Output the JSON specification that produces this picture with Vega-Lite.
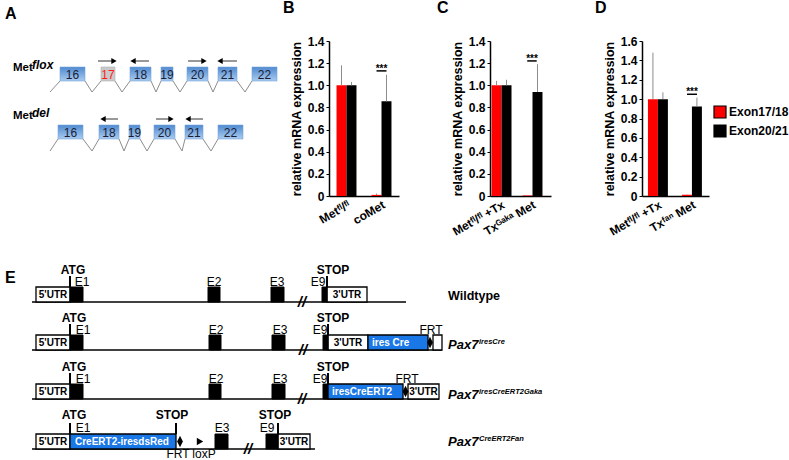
{
  "$schema": "https://vega.github.io/schema/vega-lite/v6.json",
  "padding": 0,
  "background": "white",
  "config": {
    "font": "Liberation Sans",
    "view": {"stroke": null},
    "title": {"fontSize": 16, "fontWeight": "bold", "anchor": "start", "frame": "group", "font": "Liberation Sans", "color": "black", "baseline": "alphabetic", "offset": 19},
    "axis": {"labelFont": "Liberation Sans", "titleFont": "Liberation Sans", "labelColor": "black", "titleColor": "black", "domainColor": "black", "tickColor": "black", "grid": false, "labelFontWeight": "bold", "titleFontWeight": "bold", "labelFontSize": 12, "titleFontSize": 12.5, "labelOverlap": false, "labelSeparation": 0},
    "axisY": {"labelOverlap": false},
    "axisQuantitative": {"labelOverlap": false}
  },
  "spacing": 24,
  "vconcat": [
    {
      "spacing": 3,
      "hconcat": [
        {
          "width": 280,
          "height": 155,
          "title": {"text": "A", "dx": 5},
          "layer": [
            {
              "data": {"values": [
                {"x": 50, "y": 51, "x2": 60, "y2": 40}, {"x": 85, "y": 40, "x2": 92, "y2": 51}, {"x": 92, "y": 51, "x2": 101, "y2": 40},
                {"x": 115, "y": 40, "x2": 122, "y2": 51}, {"x": 122, "y": 51, "x2": 130, "y2": 40}, {"x": 151, "y": 40, "x2": 156, "y2": 51},
                {"x": 156, "y": 51, "x2": 161, "y2": 40}, {"x": 173, "y": 40, "x2": 180, "y2": 51}, {"x": 180, "y": 51, "x2": 187, "y2": 40},
                {"x": 208, "y": 40, "x2": 213, "y2": 51}, {"x": 213, "y": 51, "x2": 218, "y2": 40}, {"x": 237, "y": 40, "x2": 245, "y2": 51},
                {"x": 245, "y": 51, "x2": 252, "y2": 40},
                {"x": 50, "y": 110, "x2": 58, "y2": 98}, {"x": 83, "y": 98, "x2": 92, "y2": 110}, {"x": 92, "y": 110, "x2": 99, "y2": 98},
                {"x": 119, "y": 98, "x2": 124, "y2": 110}, {"x": 124, "y": 110, "x2": 129, "y2": 98}, {"x": 140, "y": 98, "x2": 147, "y2": 110},
                {"x": 147, "y": 110, "x2": 154, "y2": 98}, {"x": 175, "y": 98, "x2": 182, "y2": 110}, {"x": 182, "y": 110, "x2": 185, "y2": 98},
                {"x": 203, "y": 98, "x2": 211, "y2": 110}, {"x": 211, "y": 110, "x2": 218, "y2": 98}
              ]},
              "mark": {"type": "rule", "color": "#8c8c8c", "strokeWidth": 1},
              "encoding": {
                "x": {"field": "x", "type": "quantitative", "scale": {"domain": [0, 280], "nice": false, "zero": false}, "axis": null},
                "y": {"field": "y", "type": "quantitative", "scale": {"domain": [0, 155], "nice": false, "zero": false, "reverse": true}, "axis": null},
                "x2": {"field": "x2"},
                "y2": {"field": "y2"}
              }
            },
            {
              "data": {"name": "exons", "values": [
                {"exon": "16", "start": 60, "end": 85, "mid": 72.5, "top": 26, "bottom": 40},
                {"exon": "17", "start": 101, "end": 115, "mid": 108, "top": 26, "bottom": 40},
                {"exon": "18", "start": 130, "end": 151, "mid": 140.5, "top": 26, "bottom": 40},
                {"exon": "19", "start": 161, "end": 173, "mid": 167, "top": 26, "bottom": 40},
                {"exon": "20", "start": 187, "end": 208, "mid": 197.5, "top": 26, "bottom": 40},
                {"exon": "21", "start": 218, "end": 237, "mid": 227.5, "top": 26, "bottom": 40},
                {"exon": "22", "start": 252, "end": 277, "mid": 264.5, "top": 26, "bottom": 40},
                {"exon": "16", "start": 58, "end": 83, "mid": 70.5, "top": 84, "bottom": 98},
                {"exon": "18", "start": 99, "end": 119, "mid": 109, "top": 84, "bottom": 98},
                {"exon": "19", "start": 129, "end": 140, "mid": 134.5, "top": 84, "bottom": 98},
                {"exon": "20", "start": 154, "end": 175, "mid": 164.5, "top": 84, "bottom": 98},
                {"exon": "21", "start": 185, "end": 203, "mid": 194, "top": 84, "bottom": 98},
                {"exon": "22", "start": 218, "end": 243, "mid": 230.5, "top": 84, "bottom": 98}
              ]},
              "transform": [{"filter": "datum.exon !== '17'"}],
              "mark": {"type": "rect", "fill": {"gradient": "linear", "x1": 0, "y1": 0, "x2": 0, "y2": 1, "stops": [{"offset": 0, "color": "#4f8ad0"}, {"offset": 1, "color": "#a9cbef"}]}, "stroke": "#7aa6da", "strokeWidth": 0.6},
              "encoding": {
                "x": {"field": "start", "type": "quantitative"},
                "x2": {"field": "end"},
                "y": {"field": "top", "type": "quantitative"},
                "y2": {"field": "bottom"}
              }
            },
            {
              "data": {"name": "exons"},
              "transform": [{"filter": "datum.exon === '17'"}],
              "mark": {"type": "rect", "fill": "#c9c9c9", "stroke": "#b0b0b0", "strokeWidth": 0.6},
              "encoding": {
                "x": {"field": "start", "type": "quantitative"},
                "x2": {"field": "end"},
                "y": {"field": "top", "type": "quantitative"},
                "y2": {"field": "bottom"}
              }
            },
            {
              "data": {"name": "exons"},
              "mark": {"type": "text", "fontSize": 12, "align": "center", "baseline": "alphabetic", "dy": -2.5},
              "encoding": {
                "x": {"field": "mid", "type": "quantitative"},
                "y": {"field": "bottom", "type": "quantitative"},
                "text": {"field": "exon"},
                "color": {"condition": {"test": "datum.exon === '17'", "value": "#ff1a1a"}, "value": "#1c1c34"}
              }
            },
            {
              "data": {"name": "arrows", "values": [
                {"x": 98, "x2": 114, "y": 20, "dir": "right"},
                {"x": 149, "x2": 133, "y": 20, "dir": "left"},
                {"x": 188, "x2": 204, "y": 20, "dir": "right"},
                {"x": 237, "x2": 220, "y": 20, "dir": "left"},
                {"x": 118, "x2": 103, "y": 78, "dir": "left"},
                {"x": 156, "x2": 171, "y": 78, "dir": "right"},
                {"x": 203, "x2": 188, "y": 78, "dir": "left"}
              ]},
              "mark": {"type": "rule", "color": "#333333", "strokeWidth": 1},
              "encoding": {
                "x": {"field": "x", "type": "quantitative"},
                "x2": {"field": "x2"},
                "y": {"field": "y", "type": "quantitative"}
              }
            },
            {
              "data": {"name": "arrows"},
              "transform": [{"filter": "datum.dir === 'right'"}],
              "mark": {"type": "point", "filled": true, "color": "black", "size": 38, "opacity": 1, "shape": "triangle-right"},
              "encoding": {
                "x": {"field": "x2", "type": "quantitative"},
                "y": {"field": "y", "type": "quantitative"}
              }
            },
            {
              "data": {"name": "arrows"},
              "transform": [{"filter": "datum.dir === 'left'"}],
              "mark": {"type": "point", "filled": true, "color": "black", "size": 38, "opacity": 1, "shape": "triangle-left"},
              "encoding": {
                "x": {"field": "x2", "type": "quantitative"},
                "y": {"field": "y", "type": "quantitative"}
              }
            },
            {
              "data": {"name": "alabels", "values": [
                {"name": "Met", "sup": "flox", "x": 13, "y": 27},
                {"name": "Met", "sup": "del", "x": 13, "y": 75}
              ]},
              "mark": {"type": "text", "fontSize": 11.5, "fontWeight": "bold", "align": "left", "color": "black"},
              "encoding": {
                "x": {"field": "x", "type": "quantitative"},
                "y": {"field": "y", "type": "quantitative"},
                "text": {"field": "name"}
              }
            },
            {
              "data": {"name": "alabels"},
              "mark": {"type": "text", "fontSize": 12, "fontWeight": "bold", "fontStyle": "italic", "align": "left", "dx": 19, "dy": -3, "color": "black"},
              "encoding": {
                "x": {"field": "x", "type": "quantitative"},
                "y": {"field": "y", "type": "quantitative"},
                "text": {"field": "sup"}
              }
            }
          ]
        },
        {
          "spacing": 91,
          "bounds": "flush",
          "resolve": {"legend": {"color": "independent"}},
          "hconcat": [
            {
              "width": 70,
              "height": 155,
              "title": {"text": "B", "dx": -46},
              "data": {"values": [
                {"group": "Metᶠˡ/ᶠˡ", "series": "Exon17/18", "value": 1.0, "upper": 1.18},
                {"group": "Metᶠˡ/ᶠˡ", "series": "Exon20/21", "value": 1.0, "upper": 1.03},
                {"group": "coMet", "series": "Exon17/18", "value": 0.01, "upper": 0.022},
                {"group": "coMet", "series": "Exon20/21", "value": 0.855, "upper": 1.095}
              ]},
              "layer": [
                {
                  "mark": {"type": "bar"},
                  "encoding": {
                    "x": {"field": "group", "type": "nominal", "scale": {"domain": ["Metᶠˡ/ᶠˡ", "coMet"], "paddingInner": 0.43, "paddingOuter": 0.215}, "axis": {"title": null, "ticks": false, "labelAngle": -30, "labelPadding": 3, "domainWidth": 1.5}},
                    "xOffset": {"field": "series", "type": "nominal", "scale": {"domain": ["Exon17/18", "Exon20/21"], "paddingInner": 0, "paddingOuter": 0}},
                    "y": {"field": "value", "type": "quantitative", "scale": {"domain": [0, 1.4], "nice": false}, "axis": {"title": "relative mRNA expression", "values": [0, 0.2, 0.4, 0.6, 0.8, 1.0, 1.2, 1.4], "labelOverlap": false, "labelExpr": "datum.value === 0 ? '0' : format(datum.value, '.1f')", "tickSize": 3, "domainWidth": 1.5, "labelPadding": 2, "titlePadding": 4}},
                    "color": {"field": "series", "type": "nominal", "scale": {"domain": ["Exon17/18", "Exon20/21"], "range": ["#ff0000", "#000000"]}, "legend": null}
                  }
                },
                {
                  "mark": {"type": "rule", "color": "#8c8c8c", "strokeWidth": 1},
                  "encoding": {
                    "x": {"field": "group", "type": "nominal"},
                    "xOffset": {"field": "series", "type": "nominal"},
                    "y": {"field": "value", "type": "quantitative", "axis": {"title": "relative mRNA expression", "values": [0, 0.2, 0.4, 0.6, 0.8, 1.0, 1.2, 1.4], "labelOverlap": false, "labelExpr": "datum.value === 0 ? '0' : format(datum.value, '.1f')", "tickSize": 3, "domainWidth": 1.5, "labelPadding": 2, "titlePadding": 4}},
                    "y2": {"field": "upper"}
                  }
                },
                {
                  "data": {"values": [{"group": "coMet", "sig": 1.13, "stars": "***"}]},
                  "layer": [
                    {
                      "mark": {"type": "rule", "color": "black", "strokeWidth": 1.5},
                      "encoding": {
                        "x": {"field": "group", "type": "nominal", "bandPosition": 0.25},
                        "x2": {"field": "group", "bandPosition": 0.75},
                        "y": {"field": "sig", "type": "quantitative", "axis": {"title": "relative mRNA expression", "values": [0, 0.2, 0.4, 0.6, 0.8, 1.0, 1.2, 1.4], "labelOverlap": false, "labelExpr": "datum.value === 0 ? '0' : format(datum.value, '.1f')", "tickSize": 3, "domainWidth": 1.5, "labelPadding": 2, "titlePadding": 4}}
                      }
                    },
                    {
                      "mark": {"type": "text", "fontSize": 10, "fontWeight": "bold", "baseline": "bottom", "dy": 3},
                      "encoding": {
                        "x": {"field": "group", "type": "nominal", "bandPosition": 0.5},
                        "y": {"field": "sig", "type": "quantitative", "axis": {"title": "relative mRNA expression", "values": [0, 0.2, 0.4, 0.6, 0.8, 1.0, 1.2, 1.4], "labelOverlap": false, "labelExpr": "datum.value === 0 ? '0' : format(datum.value, '.1f')", "tickSize": 3, "domainWidth": 1.5, "labelPadding": 2, "titlePadding": 4}},
                        "text": {"field": "stars"}
                      }
                    }
                  ]
                }
              ]
            },
            {
              "width": 61,
              "height": 155,
              "title": {"text": "C", "dx": -53},
              "data": {"values": [
                {"group": "Metᶠˡ/ᶠˡ +Tx", "series": "Exon17/18", "value": 1.0, "upper": 1.04},
                {"group": "Metᶠˡ/ᶠˡ +Tx", "series": "Exon20/21", "value": 1.0, "upper": 1.05},
                {"group": "Txᴳᵃᵏᵃ Met", "series": "Exon17/18", "value": 0.005, "upper": 0.006},
                {"group": "Txᴳᵃᵏᵃ Met", "series": "Exon20/21", "value": 0.94, "upper": 1.19}
              ]},
              "layer": [
                {
                  "mark": {"type": "bar"},
                  "encoding": {
                    "x": {"field": "group", "type": "nominal", "scale": {"domain": ["Metᶠˡ/ᶠˡ +Tx", "Txᴳᵃᵏᵃ Met"], "paddingInner": 0.39, "paddingOuter": 0.18, "align": 0.14}, "axis": {"title": null, "ticks": false, "labelAngle": -30, "labelPadding": 3, "domainWidth": 1.5}},
                    "xOffset": {"field": "series", "type": "nominal", "scale": {"domain": ["Exon17/18", "Exon20/21"], "paddingInner": 0, "paddingOuter": 0}},
                    "y": {"field": "value", "type": "quantitative", "scale": {"domain": [0, 1.4], "nice": false}, "axis": {"title": "relative mRNA expression", "values": [0, 0.2, 0.4, 0.6, 0.8, 1.0, 1.2, 1.4], "labelOverlap": false, "labelExpr": "datum.value === 0 ? '0' : format(datum.value, '.1f')", "tickSize": 3, "domainWidth": 1.5, "labelPadding": 2, "titlePadding": 4}},
                    "color": {"field": "series", "type": "nominal", "scale": {"domain": ["Exon17/18", "Exon20/21"], "range": ["#ff0000", "#000000"]}, "legend": null}
                  }
                },
                {
                  "mark": {"type": "rule", "color": "#8c8c8c", "strokeWidth": 1},
                  "encoding": {
                    "x": {"field": "group", "type": "nominal"},
                    "xOffset": {"field": "series", "type": "nominal"},
                    "y": {"field": "value", "type": "quantitative", "axis": {"title": "relative mRNA expression", "values": [0, 0.2, 0.4, 0.6, 0.8, 1.0, 1.2, 1.4], "labelOverlap": false, "labelExpr": "datum.value === 0 ? '0' : format(datum.value, '.1f')", "tickSize": 3, "domainWidth": 1.5, "labelPadding": 2, "titlePadding": 4}},
                    "y2": {"field": "upper"}
                  }
                },
                {
                  "data": {"values": [{"group": "Txᴳᵃᵏᵃ Met", "sig": 1.22, "stars": "***"}]},
                  "layer": [
                    {
                      "mark": {"type": "rule", "color": "black", "strokeWidth": 1.5},
                      "encoding": {
                        "x": {"field": "group", "type": "nominal", "bandPosition": 0.25},
                        "x2": {"field": "group", "bandPosition": 0.75},
                        "y": {"field": "sig", "type": "quantitative", "axis": {"title": "relative mRNA expression", "values": [0, 0.2, 0.4, 0.6, 0.8, 1.0, 1.2, 1.4], "labelOverlap": false, "labelExpr": "datum.value === 0 ? '0' : format(datum.value, '.1f')", "tickSize": 3, "domainWidth": 1.5, "labelPadding": 2, "titlePadding": 4}}
                      }
                    },
                    {
                      "mark": {"type": "text", "fontSize": 10, "fontWeight": "bold", "baseline": "bottom", "dy": 3},
                      "encoding": {
                        "x": {"field": "group", "type": "nominal", "bandPosition": 0.5},
                        "y": {"field": "sig", "type": "quantitative", "axis": {"title": "relative mRNA expression", "values": [0, 0.2, 0.4, 0.6, 0.8, 1.0, 1.2, 1.4], "labelOverlap": false, "labelExpr": "datum.value === 0 ? '0' : format(datum.value, '.1f')", "tickSize": 3, "domainWidth": 1.5, "labelPadding": 2, "titlePadding": 4}},
                        "text": {"field": "stars"}
                      }
                    }
                  ]
                }
              ]
            },
            {
              "width": 67,
              "height": 155,
              "title": {"text": "D", "dx": -47},
              "data": {"values": [
                {"group": "Metᶠˡ/ᶠˡ +Tx", "series": "Exon17/18", "value": 1.0, "upper": 1.48},
                {"group": "Metᶠˡ/ᶠˡ +Tx", "series": "Exon20/21", "value": 1.0, "upper": 1.07},
                {"group": "Txᶠᵃⁿ Met", "series": "Exon17/18", "value": 0.012, "upper": 0.016},
                {"group": "Txᶠᵃⁿ Met", "series": "Exon20/21", "value": 0.925, "upper": 1.015}
              ]},
              "layer": [
                {
                  "mark": {"type": "bar"},
                  "encoding": {
                    "x": {"field": "group", "type": "nominal", "scale": {"domain": ["Metᶠˡ/ᶠˡ +Tx", "Txᶠᵃⁿ Met"], "paddingInner": 0.41, "paddingOuter": 0.19, "align": 0.46}, "axis": {"title": null, "ticks": false, "labelAngle": -30, "labelPadding": 3, "domainWidth": 1.5}},
                    "xOffset": {"field": "series", "type": "nominal", "scale": {"domain": ["Exon17/18", "Exon20/21"], "paddingInner": 0, "paddingOuter": 0}},
                    "y": {"field": "value", "type": "quantitative", "scale": {"domain": [0, 1.6], "nice": false}, "axis": {"title": "relative mRNA expression", "values": [0, 0.2, 0.4, 0.6, 0.8, 1.0, 1.2, 1.4, 1.6], "labelOverlap": false, "labelExpr": "datum.value === 0 ? '0' : format(datum.value, '.1f')", "tickSize": 3, "domainWidth": 1.5, "labelPadding": 2, "titlePadding": 4}},
                    "color": {"field": "series", "type": "nominal", "scale": {"domain": ["Exon17/18", "Exon20/21"], "range": ["#ff0000", "#000000"]}, "legend": {"orient": "none", "legendX": 71, "legendY": 64, "title": null, "symbolType": "square", "symbolSize": 144, "symbolStrokeColor": "black", "symbolStrokeWidth": 1.2, "labelFontSize": 12, "labelFontWeight": "bold", "labelFont": "Liberation Sans", "labelColor": "black", "rowPadding": 1, "labelOffset": 2}}
                  }
                },
                {
                  "mark": {"type": "rule", "color": "#8c8c8c", "strokeWidth": 1},
                  "encoding": {
                    "x": {"field": "group", "type": "nominal"},
                    "xOffset": {"field": "series", "type": "nominal"},
                    "y": {"field": "value", "type": "quantitative", "axis": {"title": "relative mRNA expression", "values": [0, 0.2, 0.4, 0.6, 0.8, 1.0, 1.2, 1.4, 1.6], "labelOverlap": false, "labelExpr": "datum.value === 0 ? '0' : format(datum.value, '.1f')", "tickSize": 3, "domainWidth": 1.5, "labelPadding": 2, "titlePadding": 4}},
                    "y2": {"field": "upper"}
                  }
                },
                {
                  "data": {"values": [{"group": "Txᶠᵃⁿ Met", "sig": 1.05, "stars": "***"}]},
                  "layer": [
                    {
                      "mark": {"type": "rule", "color": "black", "strokeWidth": 1.5},
                      "encoding": {
                        "x": {"field": "group", "type": "nominal", "bandPosition": 0.25},
                        "x2": {"field": "group", "bandPosition": 0.75},
                        "y": {"field": "sig", "type": "quantitative", "axis": {"title": "relative mRNA expression", "values": [0, 0.2, 0.4, 0.6, 0.8, 1.0, 1.2, 1.4, 1.6], "labelOverlap": false, "labelExpr": "datum.value === 0 ? '0' : format(datum.value, '.1f')", "tickSize": 3, "domainWidth": 1.5, "labelPadding": 2, "titlePadding": 4}}
                      }
                    },
                    {
                      "mark": {"type": "text", "fontSize": 10, "fontWeight": "bold", "baseline": "bottom", "dy": 3},
                      "encoding": {
                        "x": {"field": "group", "type": "nominal", "bandPosition": 0.5},
                        "y": {"field": "sig", "type": "quantitative", "axis": {"title": "relative mRNA expression", "values": [0, 0.2, 0.4, 0.6, 0.8, 1.0, 1.2, 1.4, 1.6], "labelOverlap": false, "labelExpr": "datum.value === 0 ? '0' : format(datum.value, '.1f')", "tickSize": 3, "domainWidth": 1.5, "labelPadding": 2, "titlePadding": 4}},
                        "text": {"field": "stars"}
                      }
                    }
                  ]
                }
              ]
            }
          ]
        }
      ]
    },
    {
      "width": 560,
      "height": 200,
      "title": {"text": "E", "dx": 5, "dy": 24, "offset": 0},
      "layer": [
        {
          "data": {"values": [
            {"x": 32, "x2": 406, "y": 40}, {"x": 32, "x2": 442, "y": 88}, {"x": 32, "x2": 439, "y": 137}, {"x": 32, "x2": 315, "y": 187}
          ]},
          "mark": {"type": "rule", "color": "black", "strokeWidth": 1.5},
          "encoding": {
            "x": {"field": "x", "type": "quantitative", "scale": {"domain": [0, 560], "nice": false, "zero": false}, "axis": null},
            "x2": {"field": "x2"},
            "y": {"field": "y", "type": "quantitative", "scale": {"domain": [0, 200], "nice": false, "zero": false, "reverse": true}, "axis": null}
          }
        },
        {
          "data": {"name": "boxes", "values": [
            {"kind": "white", "x": 36, "x2": 70, "y": 25, "y2": 40}, {"kind": "black", "x": 70, "x2": 83, "y": 25, "y2": 40},
            {"kind": "black", "x": 208, "x2": 220, "y": 25, "y2": 40}, {"kind": "black", "x": 271, "x2": 284, "y": 25, "y2": 40},
            {"kind": "black", "x": 322, "x2": 327, "y": 25, "y2": 40}, {"kind": "white", "x": 327, "x2": 367, "y": 25, "y2": 40},
            {"kind": "white", "x": 36, "x2": 70, "y": 73, "y2": 88}, {"kind": "black", "x": 70, "x2": 83, "y": 73, "y2": 88},
            {"kind": "black", "x": 209, "x2": 221, "y": 73, "y2": 88}, {"kind": "black", "x": 272, "x2": 285, "y": 73, "y2": 88},
            {"kind": "black", "x": 323, "x2": 328, "y": 73, "y2": 88}, {"kind": "white", "x": 328, "x2": 368, "y": 73, "y2": 88},
            {"kind": "blue", "x": 368, "x2": 428, "y": 73, "y2": 88}, {"kind": "white", "x": 433, "x2": 442, "y": 73, "y2": 88},
            {"kind": "white", "x": 36, "x2": 70, "y": 122, "y2": 137}, {"kind": "black", "x": 70, "x2": 83, "y": 122, "y2": 137},
            {"kind": "black", "x": 209, "x2": 221, "y": 122, "y2": 137}, {"kind": "black", "x": 272, "x2": 285, "y": 122, "y2": 137},
            {"kind": "black", "x": 323, "x2": 328, "y": 122, "y2": 137}, {"kind": "blue", "x": 328, "x2": 403, "y": 122, "y2": 137},
            {"kind": "white", "x": 408, "x2": 439, "y": 122, "y2": 137},
            {"kind": "white", "x": 36, "x2": 70, "y": 172, "y2": 187}, {"kind": "blue", "x": 70, "x2": 176, "y": 172, "y2": 187},
            {"kind": "black", "x": 215, "x2": 228, "y": 172, "y2": 187}, {"kind": "black", "x": 266, "x2": 278, "y": 172, "y2": 187},
            {"kind": "white", "x": 278, "x2": 310, "y": 172, "y2": 187}
          ]},
          "transform": [{"filter": "datum.kind === 'white'"}],
          "mark": {"type": "rect", "fill": "white", "stroke": "black", "strokeWidth": 1.3},
          "encoding": {
            "x": {"field": "x", "type": "quantitative"},
            "x2": {"field": "x2"},
            "y": {"field": "y", "type": "quantitative"},
            "y2": {"field": "y2"}
          }
        },
        {
          "data": {"name": "boxes"},
          "transform": [{"filter": "datum.kind === 'black'"}],
          "mark": {"type": "rect", "fill": "black", "stroke": "black", "strokeWidth": 1},
          "encoding": {
            "x": {"field": "x", "type": "quantitative"},
            "x2": {"field": "x2"},
            "y": {"field": "y", "type": "quantitative"},
            "y2": {"field": "y2"}
          }
        },
        {
          "data": {"name": "boxes"},
          "transform": [{"filter": "datum.kind === 'blue'"}],
          "mark": {"type": "rect", "fill": "#1a78e6", "stroke": "black", "strokeWidth": 1.3},
          "encoding": {
            "x": {"field": "x", "type": "quantitative"},
            "x2": {"field": "x2"},
            "y": {"field": "y", "type": "quantitative"},
            "y2": {"field": "y2"}
          }
        },
        {
          "data": {"values": [
            {"x": 70, "y": 14, "y2": 25}, {"x": 327, "y": 14, "y2": 25},
            {"x": 70, "y": 62, "y2": 73}, {"x": 328, "y": 62, "y2": 73},
            {"x": 70, "y": 111, "y2": 122}, {"x": 328, "y": 111, "y2": 122},
            {"x": 70, "y": 161, "y2": 172}, {"x": 176, "y": 161, "y2": 172}, {"x": 278, "y": 161, "y2": 172}
          ]},
          "mark": {"type": "rule", "color": "black", "strokeWidth": 2},
          "encoding": {
            "x": {"field": "x", "type": "quantitative"},
            "y": {"field": "y", "type": "quantitative"},
            "y2": {"field": "y2"}
          }
        },
        {
          "data": {"name": "etext", "values": [
            {"kind": "bold", "text": "ATG", "x": 73, "y": 12}, {"kind": "bold", "text": "STOP", "x": 333, "y": 12},
            {"kind": "bold", "text": "ATG", "x": 74, "y": 60}, {"kind": "bold", "text": "STOP", "x": 333, "y": 60},
            {"kind": "bold", "text": "ATG", "x": 74, "y": 109}, {"kind": "bold", "text": "STOP", "x": 333, "y": 109},
            {"kind": "bold", "text": "ATG", "x": 74, "y": 157}, {"kind": "bold", "text": "STOP", "x": 172, "y": 157}, {"kind": "bold", "text": "STOP", "x": 275, "y": 157},
            {"kind": "plain", "text": "E1", "x": 82, "y": 24}, {"kind": "plain", "text": "E2", "x": 214, "y": 24}, {"kind": "plain", "text": "E3", "x": 277, "y": 24}, {"kind": "plain", "text": "E9", "x": 318, "y": 24},
            {"kind": "plain", "text": "E1", "x": 83, "y": 72}, {"kind": "plain", "text": "E2", "x": 216, "y": 72}, {"kind": "plain", "text": "E3", "x": 280, "y": 72}, {"kind": "plain", "text": "E9", "x": 320, "y": 72},
            {"kind": "plain", "text": "E1", "x": 83, "y": 121}, {"kind": "plain", "text": "E2", "x": 216, "y": 121}, {"kind": "plain", "text": "E3", "x": 280, "y": 121}, {"kind": "plain", "text": "E9", "x": 320, "y": 121},
            {"kind": "plain", "text": "E1", "x": 83, "y": 170}, {"kind": "plain", "text": "E3", "x": 222, "y": 170}, {"kind": "plain", "text": "E9", "x": 267, "y": 170},
            {"kind": "plain", "text": "FRT", "x": 431, "y": 72}, {"kind": "plain", "text": "FRT", "x": 407, "y": 121},
            {"kind": "plain", "text": "FRT", "x": 178, "y": 196}, {"kind": "plain", "text": "loxP", "x": 204, "y": 196},
            {"kind": "utr", "text": "5'UTR", "x": 53, "y": 32.5}, {"kind": "utr", "text": "3'UTR", "x": 347, "y": 32.5},
            {"kind": "utr", "text": "5'UTR", "x": 53, "y": 80.5}, {"kind": "utr", "text": "3'UTR", "x": 348, "y": 80.5},
            {"kind": "utr", "text": "5'UTR", "x": 53, "y": 129.5}, {"kind": "utr", "text": "3'UTR", "x": 423.5, "y": 129.5},
            {"kind": "utr", "text": "5'UTR", "x": 53, "y": 179.5}, {"kind": "utr", "text": "3'UTR", "x": 294, "y": 179.5},
            {"kind": "blue", "text": "ires Cre", "x": 372, "y": 80.5}, {"kind": "blue", "text": "iresCreERT2", "x": 332, "y": 129.5},
            {"kind": "blue", "text": "CreERT2-iresdsRed", "x": 75, "y": 179.5},
            {"kind": "brk", "text": "//", "x": 302, "y": 40}, {"kind": "brk", "text": "//", "x": 303, "y": 88},
            {"kind": "brk", "text": "//", "x": 302, "y": 137}, {"kind": "brk", "text": "//", "x": 248, "y": 187},
            {"kind": "wt", "text": "Wildtype", "x": 448, "y": 38}
          ]},
          "transform": [{"filter": "datum.kind === 'bold'"}],
          "mark": {"type": "text", "fontSize": 12, "fontWeight": "bold", "align": "center", "baseline": "alphabetic", "color": "black"},
          "encoding": {
            "x": {"field": "x", "type": "quantitative"},
            "y": {"field": "y", "type": "quantitative"},
            "text": {"field": "text"}
          }
        },
        {
          "data": {"name": "etext"},
          "transform": [{"filter": "datum.kind === 'wt'"}],
          "mark": {"type": "text", "fontSize": 12.5, "fontWeight": "bold", "align": "left", "baseline": "alphabetic", "color": "black"},
          "encoding": {
            "x": {"field": "x", "type": "quantitative"},
            "y": {"field": "y", "type": "quantitative"},
            "text": {"field": "text"}
          }
        },
        {
          "data": {"name": "etext"},
          "transform": [{"filter": "datum.kind === 'plain'"}],
          "mark": {"type": "text", "fontSize": 12, "align": "center", "baseline": "alphabetic", "color": "black"},
          "encoding": {
            "x": {"field": "x", "type": "quantitative"},
            "y": {"field": "y", "type": "quantitative"},
            "text": {"field": "text"}
          }
        },
        {
          "data": {"name": "etext"},
          "transform": [{"filter": "datum.kind === 'utr'"}],
          "mark": {"type": "text", "fontSize": 10, "fontWeight": "bold", "align": "center", "baseline": "middle", "color": "black"},
          "encoding": {
            "x": {"field": "x", "type": "quantitative"},
            "y": {"field": "y", "type": "quantitative"},
            "text": {"field": "text"}
          }
        },
        {
          "data": {"name": "etext"},
          "transform": [{"filter": "datum.kind === 'blue'"}],
          "mark": {"type": "text", "fontSize": 10, "fontWeight": "bold", "align": "left", "baseline": "middle", "color": "white"},
          "encoding": {
            "x": {"field": "x", "type": "quantitative"},
            "y": {"field": "y", "type": "quantitative"},
            "text": {"field": "text"}
          }
        },
        {
          "data": {"name": "etext"},
          "transform": [{"filter": "datum.kind === 'brk'"}],
          "mark": {"type": "text", "fontSize": 15, "fontWeight": "bold", "fontStyle": "italic", "align": "center", "baseline": "middle", "color": "black"},
          "encoding": {
            "x": {"field": "x", "type": "quantitative"},
            "y": {"field": "y", "type": "quantitative"},
            "text": {"field": "text"}
          }
        },
        {
          "data": {"name": "sites", "values": [
            {"site": "FRT", "x": 430, "y": 80.5}, {"site": "FRT", "x": 405.5, "y": 129.5}, {"site": "FRT", "x": 180, "y": 179.5}, {"site": "loxP", "x": 200, "y": 179.5}
          ]},
          "transform": [{"filter": "datum.site === 'FRT'"}],
          "mark": {"type": "point", "filled": true, "color": "black", "opacity": 1, "shape": "M0,-1L0.5,0L0,1L-0.5,0Z", "size": 130},
          "encoding": {
            "x": {"field": "x", "type": "quantitative"},
            "y": {"field": "y", "type": "quantitative"}
          }
        },
        {
          "data": {"name": "sites"},
          "transform": [{"filter": "datum.site === 'loxP'"}],
          "mark": {"type": "point", "filled": true, "color": "black", "opacity": 1, "shape": "triangle-right", "size": 55},
          "encoding": {
            "x": {"field": "x", "type": "quantitative"},
            "y": {"field": "y", "type": "quantitative"}
          }
        },
        {
          "data": {"name": "pax", "values": [
            {"name": "Pax7", "sup": "iresCre", "x": 448, "y": 87},
            {"name": "Pax7", "sup": "iresCreERT2Gaka", "x": 448, "y": 137},
            {"name": "Pax7", "sup": "CreERT2Fan", "x": 448, "y": 184}
          ]},
          "mark": {"type": "text", "fontSize": 13, "fontWeight": "bold", "fontStyle": "italic", "align": "left", "baseline": "alphabetic", "color": "black"},
          "encoding": {
            "x": {"field": "x", "type": "quantitative"},
            "y": {"field": "y", "type": "quantitative"},
            "text": {"field": "name"}
          }
        },
        {
          "data": {"name": "pax"},
          "mark": {"type": "text", "fontSize": 7.5, "fontStyle": "italic", "fontWeight": "bold", "align": "left", "baseline": "alphabetic", "dx": 31, "dy": -5, "color": "black"},
          "encoding": {
            "x": {"field": "x", "type": "quantitative"},
            "y": {"field": "y", "type": "quantitative"},
            "text": {"field": "sup"}
          }
        }
      ]
    }
  ]
}
